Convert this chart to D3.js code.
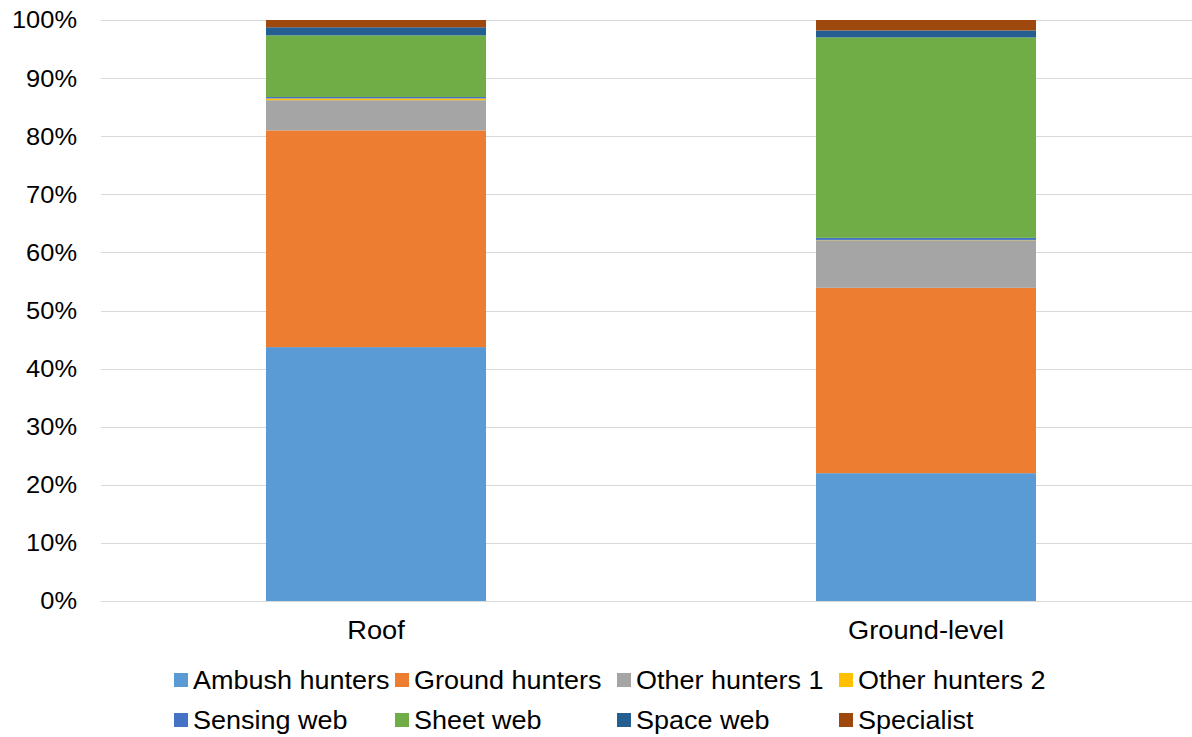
<!DOCTYPE html>
<html>
<head>
<meta charset="utf-8">
<script src="https://cdn.jsdelivr.net/npm/d3@7"></script>
<style>
  html, body { margin: 0; padding: 0; background: #fff; }
  svg { display: block; font-family: "Liberation Sans", Arial, sans-serif; }
</style>
</head>
<body>
<svg id="chart" width="1192" height="737"></svg>
<script>
// Share of spider guilds (%) per habitat
const categories = ["Roof", "Ground-level"];
const seriesNames = ["Ambush hunters", "Ground hunters", "Other hunters 1", "Other hunters 2",
                     "Sensing web", "Sheet web", "Space web", "Specialist"];
const ambushHunters  = [43.7, 22.0];
const groundHunters  = [37.3, 31.9];
const otherHunters1  = [5.2, 8.2];
const otherHunters2  = [0.3, 0.05];
const sensingWeb     = [0.25, 0.35];
const sheetWeb       = [10.6, 34.5];
const spaceWeb       = [1.4, 1.2];
const specialist     = [1.25, 1.8];
const tickLabels = ["0%", "10%", "20%", "30%", "40%", "50%", "60%", "70%", "80%", "90%", "100%"];
const colors = ["#5B9BD5", "#ED7D31", "#A5A5A5", "#FFC000", "#4472C4", "#70AD47", "#255E91", "#9E480E"];

const seriesValues = [ambushHunters, groundHunters, otherHunters1, otherHunters2,
                      sensingWeb, sheetWeb, spaceWeb, specialist];

const table = categories.map((c, i) => {
  const row = { category: c };
  seriesNames.forEach((s, k) => { row[s] = seriesValues[k][i]; });
  return row;
});

const svg = d3.select("#chart");
const plotLeft = 101, plotRight = 1201, plotTop = 20, plotBottom = 601;
const textStretch = 1.08;   // slightly wide glyphs

const x = d3.scaleBand().domain(categories).range([plotLeft, plotRight]).paddingInner(0).paddingOuter(0);
const y = d3.scaleLinear().domain([0, 100]).range([plotBottom, plotTop]);

// Gridlines
svg.append("g")
  .selectAll("line")
  .data(d3.range(0, 101, 10))
  .join("line")
  .attr("x1", plotLeft).attr("x2", 1192)
  .attr("y1", d => Math.round(y(d)) + 0.5)
  .attr("y2", d => Math.round(y(d)) + 0.5)
  .attr("stroke", "#D9D9D9")
  .attr("stroke-width", 1);

// Y tick labels
svg.append("g")
  .selectAll("text")
  .data(d3.range(0, 101, 10))
  .join("text")
  .attr("transform", d => `translate(77,${y(d)}) scale(1.06,1)`)
  .attr("dy", "0.35em")
  .attr("text-anchor", "end")
  .attr("font-size", 24)
  .attr("fill", "#000")
  .text((d, i) => tickLabels[i]);

// Stacked bars
const stack = d3.stack().keys(seriesNames);
const layers = stack(table);
const barW = x.bandwidth() * 0.4;

svg.append("g")
  .selectAll("g")
  .data(layers)
  .join("g")
  .attr("fill", (d, i) => colors[i])
  .selectAll("rect")
  .data(d => d)
  .join("rect")
  .attr("x", d => x(d.data.category) + (x.bandwidth() - barW) / 2)
  .attr("width", barW)
  .attr("y", d => y(d[1]))
  .attr("height", d => Math.max(0, y(d[0]) - y(d[1])));

// Category labels
svg.append("g")
  .selectAll("text")
  .data(categories)
  .join("text")
  .attr("transform", d => `translate(${x(d) + x.bandwidth() / 2},639) scale(1.09,1)`)
  .attr("text-anchor", "middle")
  .attr("font-size", 25)
  .attr("fill", "#000")
  .text(d => d);

// Legend: two rows of four
const legendX = [174, 395, 617, 839];
const legendY = [680, 720];
const legend = svg.append("g")
  .selectAll("g")
  .data(seriesNames)
  .join("g")
  .attr("transform", (d, i) => `translate(${legendX[i % 4]},${legendY[Math.floor(i / 4)]})`);

legend.append("rect")
  .attr("x", 0).attr("y", -7)
  .attr("width", 14).attr("height", 14)
  .attr("fill", (d, i) => colors[i]);

legend.append("text")
  .attr("transform", `translate(19,0) scale(${textStretch},1)`)
  .attr("dy", "0.35em")
  .attr("font-size", 25)
  .attr("fill", "#000")
  .text(d => d);
</script>
</body>
</html>
